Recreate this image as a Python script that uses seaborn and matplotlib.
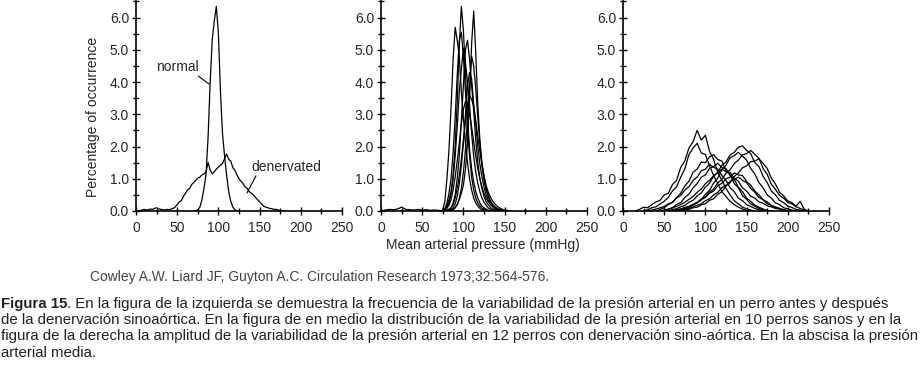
import numpy as np
import pandas as pd
import seaborn as sns
import matplotlib.pyplot as plt
from matplotlib.ticker import MultipleLocator, FormatStrFormatter

# ---- data (percentage of occurrence vs MAP) ----
# left panel: one dog before / after sino-aortic denervation (step 2.5 mmHg)
normal_start = 70
normal = [0.0, 0.01, 0.03, 0.12, 0.35, 0.7, 1.15, 2.3, 4.0, 5.3, 5.9, 6.35,
          5.5, 3.7, 2.4, 1.7, 1.1, 0.6, 0.3, 0.12, 0.04, 0.0]
denerv_start = 0
denerv = [0.0, 0.0, 0.02, 0.03, 0.05, 0.03, 0.04, 0.06, 0.05, 0.08, 0.1, 0.07,
          0.05, 0.04, 0.03, 0.05, 0.04, 0.06, 0.08, 0.12, 0.2, 0.28, 0.32, 0.45,
          0.55, 0.65, 0.7, 0.82, 0.88, 0.95, 1.02, 1.05, 1.12, 1.15, 1.22, 1.5,
          1.28, 1.15, 1.22, 1.3, 1.36, 1.42, 1.48, 1.62, 1.77, 1.6, 1.55, 1.35,
          1.26, 1.12, 1.0, 0.92, 0.85, 0.75, 0.7, 0.6, 0.55, 0.5, 0.42, 0.35,
          0.28, 0.22, 0.15, 0.12, 0.1, 0.08, 0.07, 0.05, 0.05, 0.03, 0.02, 0.01, 0.0]

# middle panel: 10 intact dogs (step 2.5 mmHg starting at 75)
mid_start = 75
mid_base = [0.0, 0.03, 0.05, 0.04, 0.06, 0.12, 0.05, 0.04, 0.03, 0.05, 0.03,
            0.04, 0.02, 0.03, 0.02, 0.0]  # 0..75, step 5
mid_a = [0.0, 0.05, 0.15, 0.35, 0.6, 1.1, 2.0, 3.4, 5.1, 6.35, 5.6, 4.3, 2.9,
         1.9, 1.3, 0.9, 0.6, 0.4, 0.25, 0.15, 0.1, 0.06, 0.03, 0, 0, 0, 0, 0,
         0, 0, 0, 0, 0, 0]
mid_b = [0, 0, 0, 0, 0.02, 0.05, 0.1, 0.2, 0.35, 0.55, 0.8, 1.3, 2.1, 3.5,
         5.2, 6.2, 4.9, 3.3, 2.2, 1.4, 0.95, 0.65, 0.45, 0.3, 0.2, 0.12, 0.08,
         0.05, 0.03, 0.01, 0, 0, 0, 0]
mid_c = [0.05, 0.3, 1.0, 1.9, 3.2, 4.7, 5.7, 5.3, 4.8, 3.7, 2.9, 2.1, 1.5, 1.0,
         0.65, 0.4, 0.25, 0.15, 0.08, 0.04, 0.02, 0, 0, 0, 0, 0, 0, 0, 0, 0, 0,
         0, 0, 0]
mid_d = [0, 0, 0.02, 0.05, 0.1, 0.25, 0.5, 1.0, 1.7, 2.8, 3.9, 5.0, 5.3, 4.7,
         3.9, 3.1, 2.2, 1.5, 1.0, 0.7, 0.45, 0.3, 0.2, 0.12, 0.07, 0.04, 0.02,
         0, 0, 0, 0, 0, 0, 0]
mid_e = [0.01, 0.05, 0.12, 0.25, 0.5, 1.0, 1.7, 2.6, 3.7, 4.4, 5.05, 4.6, 4.0,
         3.3, 2.4, 1.7, 1.2, 0.85, 0.6, 0.4, 0.28, 0.18, 0.1, 0.06, 0.03, 0, 0,
         0, 0, 0, 0, 0, 0, 0]
mid_f = [0, 0, 0, 0.02, 0.05, 0.1, 0.22, 0.45, 0.85, 1.4, 2.1, 3.0, 3.9, 4.3,
         4.1, 3.3, 2.7, 2.0, 1.45, 1.05, 0.75, 0.5, 0.35, 0.22, 0.14, 0.09,
         0.05, 0.03, 0.01, 0, 0, 0, 0, 0]
mid_g = [0, 0, 0.02, 0.05, 0.1, 0.2, 0.4, 0.7, 1.1, 1.6, 2.2, 2.8, 3.3, 3.6,
         3.45, 3.25, 2.8, 2.3, 1.85, 1.45, 1.1, 0.8, 0.6, 0.45, 0.33, 0.24,
         0.17, 0.12, 0.08, 0.05, 0.03, 0.02, 0.01, 0]
mid_h = [0, 0.03, 0.08, 0.18, 0.35, 0.65, 1.05, 1.55, 2.1, 2.7, 3.15, 3.4, 3.3,
         3.0, 2.6, 2.15, 1.7, 1.3, 1.0, 0.75, 0.55, 0.4, 0.3, 0.22, 0.16, 0.11,
         0.08, 0.05, 0.03, 0.02, 0.01, 0, 0, 0]
mid_i = [0.02, 0.08, 0.25, 0.55, 1.0, 1.8, 2.9, 4.2, 5.3, 5.55, 4.8, 3.7, 2.6,
         1.7, 1.05, 0.65, 0.4, 0.25, 0.15, 0.09, 0.05, 0.03, 0.01, 0, 0, 0, 0,
         0, 0, 0, 0, 0, 0, 0]
mid_j = [0, 0, 0, 0, 0.02, 0.05, 0.1, 0.2, 0.38, 0.7, 1.2, 1.9, 2.9, 3.9, 4.8,
         4.5, 3.8, 2.9, 2.1, 1.5, 1.05, 0.72, 0.5, 0.34, 0.23, 0.15, 0.1, 0.06,
         0.04, 0.02, 0.01, 0, 0, 0]
mid_curves = [mid_a, mid_b, mid_c, mid_d, mid_e, mid_f, mid_g, mid_h, mid_i, mid_j]

# right panel: 12 denervated dogs (step 5 mmHg, each with its own start)
den_starts = [15, 25, 40, 50, 55, 60, 65, 70, 60, 65, 30, 45]
den_1 = [0.0, 0.05, 0.12, 0.1, 0.2, 0.28, 0.33, 0.5, 0.55, 0.82, 0.95, 1.35,
         1.55, 1.95, 2.15, 2.5, 2.2, 2.35, 1.85, 1.6, 1.2, 0.95, 0.7, 0.5,
         0.32, 0.22, 0.12, 0.07, 0.03, 0.0]
den_2 = [0.0, 0.04, 0.1, 0.13, 0.22, 0.3, 0.42, 0.62, 0.75, 1.05, 1.3, 1.75,
         1.95, 2.1, 1.8, 1.75, 1.4, 1.1, 0.85, 0.6, 0.45, 0.3, 0.2, 0.12, 0.06,
         0.02, 0.0]
den_3 = [0.0, 0.05, 0.1, 0.2, 0.26, 0.42, 0.55, 0.78, 0.92, 1.2, 1.3, 1.52,
         1.5, 1.68, 1.75, 1.6, 1.55, 1.25, 1.12, 0.85, 0.72, 0.48, 0.36, 0.22,
         0.15, 0.08, 0.04, 0.0]
den_4 = [0.0, 0.05, 0.1, 0.2, 0.26, 0.42, 0.52, 0.72, 0.85, 1.05, 1.12, 1.32,
         1.38, 1.48, 1.35, 1.32, 1.1, 0.98, 0.74, 0.6, 0.4, 0.3, 0.18, 0.12,
         0.06, 0.02, 0.0]
den_5 = [0.0, 0.05, 0.07, 0.13, 0.17, 0.27, 0.33, 0.47, 0.56, 0.74, 0.86, 1.08,
         1.2, 1.42, 1.52, 1.74, 1.82, 1.98, 2.02, 1.88, 1.78, 1.5, 1.38, 1.08,
         0.88, 0.62, 0.5, 0.33, 0.26, 0.15, 0.11, 0.05, 0.03, 0.0]
den_6 = [0.0, 0.04, 0.06, 0.11, 0.14, 0.21, 0.26, 0.37, 0.44, 0.59, 0.68, 0.87,
         0.98, 1.17, 1.28, 1.47, 1.58, 1.74, 1.78, 1.88, 1.76, 1.63, 1.32, 1.14,
         0.83, 0.67, 0.48, 0.4, 0.26, 0.22, 0.13, 0.08, 0.03, 0.0]
den_7 = [0.0, 0.05, 0.07, 0.13, 0.17, 0.27, 0.35, 0.52, 0.64, 0.87, 1.02, 1.28,
         1.42, 1.65, 1.72, 1.82, 1.7, 1.58, 1.32, 1.15, 0.88, 0.72, 0.5, 0.4,
         0.25, 0.2, 0.1, 0.07, 0.03, 0.0]
den_8 = [0.0, 0.04, 0.05, 0.1, 0.12, 0.19, 0.23, 0.33, 0.38, 0.52, 0.6, 0.77,
         0.88, 1.07, 1.18, 1.34, 1.4, 1.53, 1.55, 1.62, 1.48, 1.32, 1.02, 0.84,
         0.58, 0.47, 0.31, 0.26, 0.15, 0.3, 0.05, 0.0]
den_9 = [0.0, 0.03, 0.06, 0.1, 0.13, 0.2, 0.25, 0.35, 0.42, 0.55, 0.62, 0.78,
         0.86, 1.0, 1.05, 1.18, 1.12, 1.1, 0.92, 0.8, 0.62, 0.5, 0.35, 0.28,
         0.17, 0.13, 0.07, 0.04, 0.0]
den_10 = [0.0, 0.03, 0.05, 0.09, 0.12, 0.18, 0.22, 0.32, 0.38, 0.5, 0.58, 0.72,
          0.8, 0.92, 0.98, 1.05, 0.95, 0.88, 0.7, 0.58, 0.42, 0.35, 0.22, 0.18,
          0.1, 0.08, 0.03, 0.0]
den_11 = [0.0, 0.03, 0.06, 0.1, 0.14, 0.22, 0.28, 0.4, 0.48, 0.65, 0.75, 0.95,
          1.05, 1.25, 1.3, 1.45, 1.35, 1.3, 1.1, 0.95, 0.72, 0.6, 0.4, 0.32,
          0.2, 0.14, 0.08, 0.04, 0.0]
den_12 = [0.0, 0.03, 0.06, 0.1, 0.14, 0.2, 0.27, 0.36, 0.45, 0.58, 0.68, 0.85,
          0.95, 1.1, 1.18, 1.3, 1.22, 1.2, 1.02, 0.92, 0.72, 0.62, 0.46, 0.4,
          0.28, 0.24, 0.16, 0.13, 0.08, 0.06, 0.03, 0.02, 0.0]
den_curves = [den_1, den_2, den_3, den_4, den_5, den_6, den_7, den_8, den_9,
              den_10, den_11, den_12]

x_ticks = [0, 50, 100, 150, 200, 250]
y_ticks = [0, 1, 2, 3, 4, 5, 6]

citation = "Cowley A.W. Liard JF, Guyton A.C. Circulation Research 1973;32:564-576."
caption_bold = "Figura 15"
caption_lines = [
    ". En la figura de la izquierda se demuestra la frecuencia de la variabilidad de la presión arterial en un perro antes y después",
    "de la denervación sinoaórtica. En la figura de en medio la distribución de la variabilidad de la presión arterial en 10 perros sanos y en la",
    "figura de la derecha la amplitud de la variabilidad de la presión arterial en 12 perros con denervación sino-aórtica. En la abscisa la presión",
    "arterial media.",
]


def to_long(curves, starts, step):
    rows = []
    for k, (vals, s) in enumerate(zip(curves, starts)):
        for i, v in enumerate(vals):
            rows.append((k, s + step * i, v))
    return pd.DataFrame(rows, columns=["dog", "map", "pct"])


left_df = to_long([denerv, normal], [denerv_start, normal_start], 2.5)
mid_df = pd.concat([to_long(mid_curves, [mid_start] * 10, 2.5),
                    to_long([mid_base], [0], 5).assign(dog=99)])
right_df = to_long(den_curves, den_starts, 5)

sns.set_style("ticks")
plt.rcParams['font.family'] = ['Liberation Sans', 'DejaVu Sans']

fig = plt.figure(figsize=(9.24, 3.77), dpi=100)
W, H = 924, 377
lefts = [136, 381, 623]
axes = []
for lx in lefts:
    ax = fig.add_axes([lx / W, (H - 211) / H, 206 / W, 209.5 / H])
    axes.append(ax)

for ax, df in zip(axes, [left_df, mid_df, right_df]):
    sns.lineplot(data=df, x="map", y="pct", units="dog", estimator=None,
                 color="black", linewidth=0.9, sort=False, ax=ax, legend=False)
    ax.set_xlim(0, 250)
    ax.set_ylim(0, 6.5)
    ax.set_xticks(x_ticks)
    ax.set_yticks(y_ticks)
    ax.xaxis.set_minor_locator(MultipleLocator(25))
    ax.yaxis.set_minor_locator(MultipleLocator(0.5))
    ax.yaxis.set_major_formatter(FormatStrFormatter("%.1f"))
    ax.tick_params(which="major", direction="inout", length=6, width=1,
                   labelsize=10, color="black")
    ax.tick_params(which="minor", direction="inout", length=5, width=1,
                   color="black")
    ax.tick_params(axis="y", pad=2)
    ax.tick_params(axis="x", pad=4)
    for side in ["top", "right"]:
        ax.spines[side].set_visible(False)
    for side in ["left", "bottom"]:
        ax.spines[side].set_linewidth(1.2)
        ax.spines[side].set_color("black")
    ax.set_xlabel("")
    ax.set_ylabel("")

# annotations in the left panel
ax0 = axes[0]
ax0.text(50, 4.47, "normal", ha="center", va="center", fontsize=10)
ax0.plot([75.5, 88.6], [4.19, 3.94], color="black", lw=0.8)
ax0.text(182, 1.37, "denervated", ha="center", va="center", fontsize=10)
ax0.plot([145.6, 134.7], [1.09, 0.56], color="black", lw=0.8)

fig.text(93 / W, 1 - 117 / H, "Percentage of occurrence", rotation=90,
         ha="center", va="center", fontsize=10)
fig.text(483 / W, 1 - 245 / H, "Mean arterial pressure (mmHg)",
         ha="center", va="center", fontsize=10)

# citation and caption below the panels
txt_ax = fig.add_axes([0, 0, 1, 1])
txt_ax.axis("off")
txt_ax.set_xlim(0, W)
txt_ax.set_ylim(H, 0)
narrow = ["Liberation Sans Narrow", "Liberation Sans", "DejaVu Sans"]
renderer = fig.canvas.get_renderer()


def fit_size(text, target_px, base=10):
    probe = txt_ax.text(0, 0, text, family=narrow, fontsize=base)
    w = probe.get_window_extent(renderer).width
    probe.remove()
    return base * target_px / w


cite_size = fit_size(citation, 461)
cap_size = fit_size(caption_lines[2], 919)

txt_ax.text(90, 277, citation, family=narrow, fontsize=cite_size,
            color="#444444", va="center", ha="left")
tb = txt_ax.text(1, 304, caption_bold, family=narrow, fontsize=cap_size,
                 weight="bold", color="#222222", va="center", ha="left")
txt_ax.annotate(caption_lines[0], xy=(1, 0.5), xycoords=tb, va="center",
                ha="left", family=narrow, fontsize=cap_size, color="#222222")
for i, line in enumerate(caption_lines[1:]):
    txt_ax.text(1, 320 + 16.3 * i, line, family=narrow, fontsize=cap_size,
                color="#222222", va="center", ha="left")

fig.savefig("out.png", dpi=100)
